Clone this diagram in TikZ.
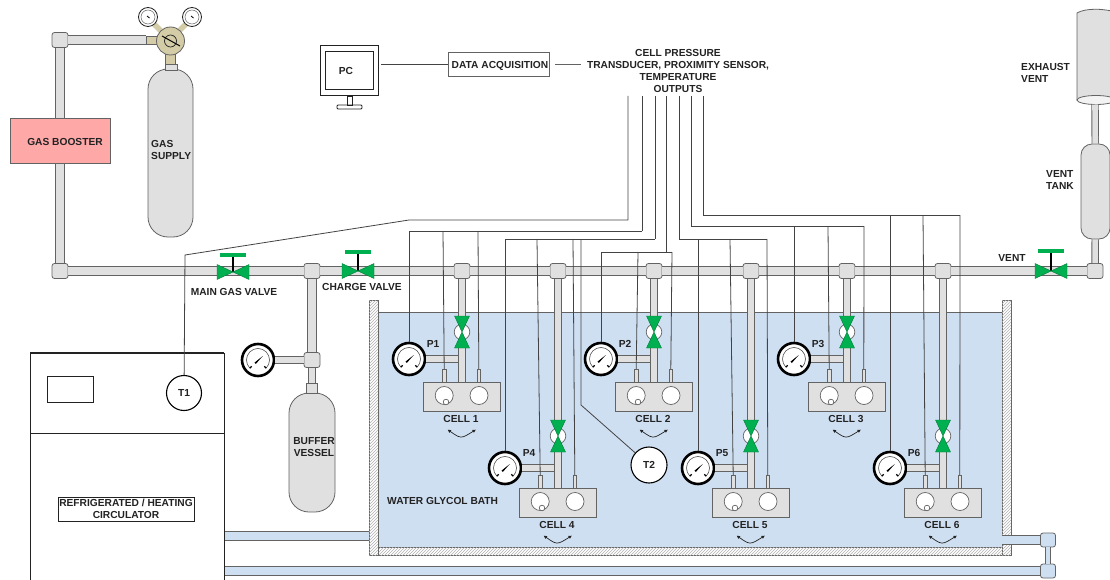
\documentclass[tikz,border=0pt]{standalone}
\usepackage{fontspec}
\setmainfont{Liberation Sans}
\usetikzlibrary{arrows.meta,patterns}
\definecolor{Ink}{HTML}{222222}
\definecolor{Edge}{HTML}{636363}
\definecolor{Steel}{HTML}{E0E0E0}
\definecolor{Water}{HTML}{CFDFF2}
\definecolor{Green}{HTML}{00B050}
\definecolor{Brass}{HTML}{D3CCA6}
\definecolor{Booster}{HTML}{FFA8A8}
\tikzset{
  lbl/.style={font=\bfseries\fontsize{10.2}{12}\selectfont, text=Ink, inner sep=0pt, align=center},
  pipe/.style={draw=Edge, line width=0.9pt, double=Steel, double distance=7.4pt},
  thinpipe/.style={draw=Edge, line width=0.9pt, double=Steel, double distance=5.6pt},
  waterpipe/.style={draw=Edge, line width=0.9pt, double=Water, double distance=8.5pt},
  joint/.style={draw=Edge, fill=Steel, line width=0.8pt, rounded corners=2.5pt, minimum width=16pt, minimum height=15pt, inner sep=0pt},
  wjoint/.style={joint, fill=Water},
  vessel/.style={draw=Edge, fill=Steel, line width=0.8pt, inner sep=0pt},
  wire/.style={draw=Ink!85, line width=0.8pt},
  wall/.style={draw=Edge, line width=0.8pt, fill=white, postaction={pattern=north east lines, pattern color=black!30}},
  probe/.style={draw=black, fill=white, circle, line width=1.1pt, inner sep=0pt},
  ring/.style={draw=black, fill=white, circle, line width=2.6pt, minimum size=32pt, inner sep=0pt},
  bore/.style={draw=Edge, fill=white, line width=0.7pt},
}
\newcommand{\dial}[3]{
  \node[ring] (#1) at (#2,#3) {};
  \begin{scope}[shift={(#2,#3)}, yscale=-1]
    \draw[black!70, line width=0.6pt] (-45:11.5) arc (-45:225:11.5);
    \draw[black, line width=1.3pt] (-45:11.5) -- (-45:9) (225:11.5) -- (225:9);
    \fill[black] (-3.5,-2.6) -- (4.8,4) -- (-2.2,-4) -- cycle;
  \end{scope}
}
\newcommand{\handvalve}[3]{
  \begin{scope}[shift={(#1,#2)}]
    \draw[black, line width=1.3pt] (0,0) -- (0,#3);
    \draw[fill=Green, draw=Green!70!black, line width=0.4pt] (-16,-7.5) -- (0,0) -- (-16,7.5) -- cycle;
    \draw[fill=Green, draw=Green!70!black, line width=0.4pt] (16,-7.5) -- (0,0) -- (16,7.5) -- cycle;
    \fill[Green] (-13,#3-1.7) rectangle (13,#3+1.7);
  \end{scope}
}
\newcommand{\cellvalve}[2]{
  \begin{scope}[shift={(#1,#2)}]
    \draw[bore] (0,0) circle (7.8);
    \draw[fill=Green, draw=Green!70!black, line width=0.4pt] (-7.5,-16) -- (0,0) -- (7.5,-16) -- cycle;
    \draw[fill=Green, draw=Green!70!black, line width=0.4pt] (-7.5,16) -- (0,0) -- (7.5,16) -- cycle;
  \end{scope}
}
% one test cell: number, pipe x, top of the block, centre of the valve, centre of the gauge
\newcommand{\cellunit}[5]{
  \coordinate (elbow#1) at (#2,#5);
  \dial{gauge#1}{#2-53}{#5}
  \draw[thinpipe] (gauge#1) -- (elbow#1);
  \node[vessel, minimum width=77pt, minimum height=29pt] (cell#1) at (#2,#3+14.5) {};
  \draw[thinpipe] (j#1) -- (cell#1);
  \cellvalve{#2}{#4}
  \draw[vessel, line width=0.6pt] (#2-19.6,#3-13) rectangle (#2-16,#3);
  \draw[vessel, line width=0.6pt] (#2+15,#3-13) rectangle (#2+18.6,#3);
  \coordinate (pa#1) at (#2-17.8,#3-13);
  \coordinate (pb#1) at (#2+16.8,#3-13);
  \draw[bore] (#2-17.8,#3+13.5) circle (9);
  \draw[bore] (#2-16,#3+20) circle (2.8);
  \draw[bore] (#2+17,#3+13.5) circle (9);
  \node[lbl] (lblcell#1) at (#2-1,#3+37) {CELL #1};
  \node[lbl] (lblp#1) at (#2-29,#5-15) {P#1};
  \draw[Ink, line width=0.7pt, {Latex[length=3.5pt,width=3.5pt]}-{Latex[length=3.5pt,width=3.5pt]}] (#2-14.5,#3+47.5) .. controls (#2-1,#3+57) .. (#2+14,#3+47.5);
}
\begin{document}
\begin{tikzpicture}[x=1pt,y=-1pt]
  \useasboundingbox (0,0) rectangle (1110,580);
  \clip (0,0) rectangle (1110,580);
  % bath
  \fill[Water] (378,312) rectangle (1002,547);
  \draw[wall] (369,547) rectangle (1011,555);
  \draw[wall] (369,300) rectangle (378,555);
  \draw[wall] (1002,300) rectangle (1011,555);
  \draw[Edge, line width=0.8pt] (378,312) -- (1002,312);
  \node[lbl, anchor=west] (lblbath) at (387,501) {WATER GLYCOL BATH};
  % joints, cells are numbered by rows
  \node[joint] (jTop) at (60,40) {};
  \node[joint] (jMain) at (60,271) {};
  \node[joint] (jCharge) at (312,271) {};
  \node[joint] (jBuffer) at (312,360) {};
  \node[joint] (jVent) at (1095,271) {};
  \foreach \n/\x in {1/462,4/558,2/654,5/751,3/847,6/943} {
    \node[joint] (j\n) at (\x,271) {};
  }
  % gas line
  \node[vessel, minimum width=45pt, minimum height=168pt, rounded corners=20pt] (gas) at (170.5,153) {};
  \coordinate (regIn) at (146,40);
  \draw[pipe] (jTop) -- (regIn);
  \draw[pipe] (jTop) -- (jMain);
  \foreach \a/\b in {jMain/jCharge,jCharge/j1,j1/j4,j4/j2,j2/j5,j5/j3,j3/j6,j6/jVent} {
    \draw[pipe] (\a) -- (\b);
  }
  \draw[pipe] (jCharge) -- (jBuffer);
  \node[lbl, draw=Edge, fill=Booster, line width=0.8pt, minimum width=100pt, minimum height=45pt] (booster) at (60,140.5) {};
  \node[lbl] (lblbooster) at (65,142) {GAS BOOSTER};
  \node[lbl, align=left, anchor=west] (lblgas) at (151,149.5) {GAS\\SUPPLY};
  % regulator
  \draw[draw=Edge, fill=Steel, line width=0.6pt] (165,64) rectangle (177,70);
  \draw[draw=Edge, fill=Brass, line width=0.5pt] (165.5,50) rectangle (175.5,64);
  \draw[Brass, line width=5.5pt] (170,40) -- (150,20) (170,40) -- (190,20);
  \draw[draw=Edge, fill=Brass, line width=0.6pt] (146,36.5) rectangle (160,44.5);
  \draw[draw=Edge, fill=Brass, line width=0.8pt] (170.5,41) circle (14);
  \draw[draw=Ink, line width=0.7pt] (170.5,41) circle (6);
  \draw[black, line width=1pt] (162,36) -- (180,46);
  \foreach \x in {148,192} {
    \draw[fill=white, draw=Ink, line width=0.8pt] (\x,17) circle (9.5);
    \draw[draw=Edge, line width=0.5pt] (\x,17) circle (7);
    \draw[black, line width=0.8pt] (\x-1,16) -- (\x+1.5,18);
  }
  % valves on the line
  \handvalve{233}{272}{-17}
  \handvalve{358}{271}{-19}
  \handvalve{1051}{271}{-20}
  \node[lbl] (lblmain) at (234,292) {MAIN GAS VALVE};
  \node[lbl] (lblcharge) at (362,287) {CHARGE VALVE};
  \node[lbl] (lblvent) at (1012,258) {VENT};
  % buffer vessel
  \node[vessel, minimum width=46pt, minimum height=119pt, rounded corners=20pt] (buffer) at (312,452.5) {};
  \draw[thinpipe] (jBuffer) -- (312,384);
  \draw[draw=Edge, fill=Steel, line width=0.7pt] (306.5,383) rectangle (317.5,393);
  \dial{gaugeBuffer}{258}{360}
  \draw[thinpipe] (gaugeBuffer) -- (jBuffer);
  \node[lbl] (lblbuffer) at (314,447) {BUFFER\\VESSEL};
  % vent
  \draw[draw=Edge, fill=Steel, line width=0.8pt] (1077,13) .. controls (1085,8) and (1105,8) .. (1118,13) -- (1118,100) -- (1077,100) -- cycle;
  \draw[draw=Edge, fill=Steel!40, line width=0.8pt] (1096,100) ellipse (19 and 4.5);
  \node[vessel, minimum width=29pt, minimum height=95pt, rounded corners=11pt] (venttank) at (1095.5,191.5) {};
  \coordinate (exhaust) at (1095,104.5);
  \draw[thinpipe] (exhaust) -- (venttank);
  \draw[thinpipe] (venttank) -- (jVent);
  \node[lbl, align=left, anchor=west] (lblexhaust) at (1021,73) {EXHAUST\\VENT};
  \node[lbl, align=left, anchor=west] (lblvt) at (1046,180) {VENT\\TANK};
  % circulator
  \draw[draw=Ink, line width=0.9pt, fill=white] (30,353) rectangle (224,590);
  \draw[Ink, line width=2pt] (30,353) -- (224,353);
  \draw[Ink, line width=1pt] (30,433) -- (224,433);
  \draw[Ink, line width=1pt] (47,376) rectangle (93,402);
  \node[probe, minimum size=35pt] (T1) at (184,393) {};
  \node[lbl] at (T1) {T1};
  \node[lbl, draw=Ink, line width=0.9pt, minimum width=136pt, minimum height=24pt] (lblcirc) at (126,509) {REFRIGERATED / HEATING\\CIRCULATOR};
  % bath water loop
  \coordinate (circA) at (225,536);
  \coordinate (bathA) at (369,536);
  \coordinate (circB) at (225,571);
  \coordinate (bathB) at (1002,540);
  \node[wjoint, minimum width=15pt, minimum height=14pt] (wjA) at (1048,540) {};
  \node[wjoint, minimum width=15pt, minimum height=14pt] (wjB) at (1048,571) {};
  \draw[waterpipe] (circA) -- (bathA);
  \draw[waterpipe] (circB) -- (wjB);
  \draw[waterpipe] (bathB) -- (wjA);
  \draw[draw=Edge, line width=0.8pt, double=Water, double distance=4.5pt] (wjA) -- (wjB);
  % cells
  \cellunit{1}{462}{382}{332}{359}
  \cellunit{2}{654}{382}{332}{359}
  \cellunit{3}{847}{382}{332}{359}
  \cellunit{4}{558}{488}{436}{468}
  \cellunit{5}{751}{488}{436}{468}
  \cellunit{6}{943}{488}{436}{468}
  % T2
  \node[probe, minimum size=36pt] (T2) at (649,465) {};
  \node[lbl] at (T2) {T2};
  % data side
  \draw[Ink, line width=1pt] (320,46) rectangle (378,96);
  \draw[Ink, line width=1pt] (325,52) rectangle (373,90);
  \draw[Ink, line width=0.9pt] (347,96) rectangle (352,105);
  \draw[Ink, line width=0.9pt, rounded corners=1pt] (337,105) rectangle (362,109);
  \node[lbl] (pc) at (346,71) {PC};
  \coordinate (pcOut) at (381,64.5);
  \node[draw=Edge, line width=0.8pt, minimum width=101pt, minimum height=24pt, inner sep=0pt] (daq) at (498.5,64.5) {};
  \node[lbl] (lbldaq) at (500,65.5) {DATA ACQUISITION};
  \coordinate (daqOut) at (555,65);
  \coordinate (outNote) at (581,65);
  \draw[wire] (pcOut) -- (daq);
  \draw[wire, line width=1pt, draw=Edge] (daqOut) -- (outNote);
  \node[lbl] (lbloutputs) at (678,70.5) {CELL PRESSURE\\TRANSDUCER, PROXIMITY SENSOR,\\TEMPERATURE\\OUTPUTS};
  % signal cables
  \coordinate (bend) at (409,220);
  \coordinate (tip) at (185,255);
  \draw[wire] (628,96) |- (bend) -- (tip) -- (T1);
  \foreach \o/\y/\n/\a/\b in {642/231/1/443/478,691/226/3/828/864,703/215/6/923/960,679/239/5/730/767,655/239/4/537/573,666.5/252/2/638/672} {
    \draw[wire] (\o,96) -- (\o,\y);
    \draw[wire] (\a,\y) -- (pa\n);
    \draw[wire] (\b,\y) -- (pb\n);
    \coordinate (bus) at (0,\y);
    \draw[wire] (gauge\n |- bus) -- (gauge\n);
  }
  \draw[wire] (409,231) -- (642,231);
  \draw[wire] (691,226) -- (864,226);
  \draw[wire] (703,215) -- (960,215);
  \draw[wire] (679,239) -- (767,239);
  \draw[wire] (505,239) -- (655,239);
  \draw[wire] (601,252) -- (672,252);
  \draw[wire] (581,239) -- (581,405) -- (T2);
\end{tikzpicture}
\end{document}
